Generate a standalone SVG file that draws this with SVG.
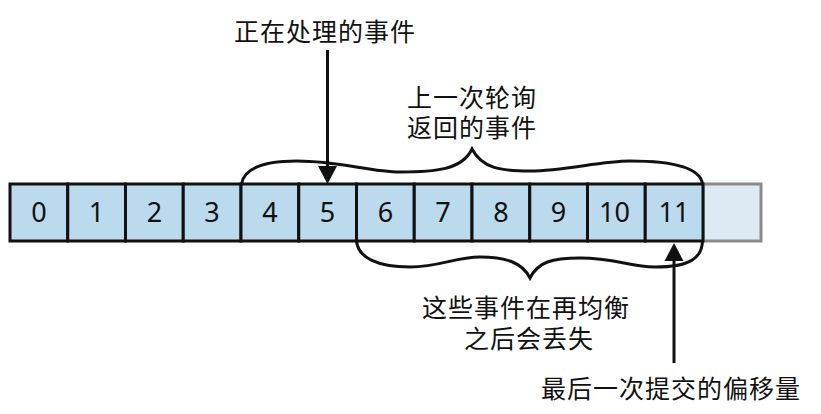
<svg xmlns="http://www.w3.org/2000/svg" width="821" height="414" viewBox="0 0 821 414">
<defs>
<style>
.cell{fill:#bcdaed;stroke:#111;stroke-width:3}
.ghost{fill:#dde9f3;stroke:#8a8a8a;stroke-width:3}
.num{font-family:"Noto Sans","Open Sans",sans-serif;font-size:27px;fill:#111;text-anchor:middle}
.lbl{font-family:"Noto Sans CJK SC","Noto Sans",sans-serif;font-size:25px;fill:#111;letter-spacing:1px}
.line{fill:none;stroke:#111;stroke-width:3}
.brace{fill:none;stroke:#111;stroke-width:3;stroke-linejoin:miter}
.head{fill:#111}
</style>
</defs>
<rect width="821" height="414" fill="#ffffff"/>
<g id="cell-empty"><rect class="ghost" x="703" y="184" width="58" height="57"/></g>
<g id="cell-0"><rect class="cell" x="10" y="184" width="57.75" height="57"/><text class="num" x="38.9" y="222">0</text></g>
<g id="cell-1"><rect class="cell" x="67.75" y="184" width="57.75" height="57"/><text class="num" x="96.6" y="222">1</text></g>
<g id="cell-2"><rect class="cell" x="125.5" y="184" width="57.75" height="57"/><text class="num" x="154.4" y="222">2</text></g>
<g id="cell-3"><rect class="cell" x="183.25" y="184" width="57.75" height="57"/><text class="num" x="212.1" y="222">3</text></g>
<g id="cell-4"><rect class="cell" x="241" y="184" width="57.75" height="57"/><text class="num" x="269.9" y="222">4</text></g>
<g id="cell-5"><rect class="cell" x="298.75" y="184" width="57.75" height="57"/><text class="num" x="327.6" y="222">5</text></g>
<g id="cell-6"><rect class="cell" x="356.5" y="184" width="57.75" height="57"/><text class="num" x="385.4" y="222">6</text></g>
<g id="cell-7"><rect class="cell" x="414.25" y="184" width="57.75" height="57"/><text class="num" x="443.1" y="222">7</text></g>
<g id="cell-8"><rect class="cell" x="472" y="184" width="57.75" height="57"/><text class="num" x="500.9" y="222">8</text></g>
<g id="cell-9"><rect class="cell" x="529.75" y="184" width="57.75" height="57"/><text class="num" x="558.6" y="222">9</text></g>
<g id="cell-10"><rect class="cell" x="587.5" y="184" width="57.75" height="57"/><text class="num" x="614.5" y="222">10</text></g>
<g id="cell-11"><rect class="cell" x="645.25" y="184" width="57.75" height="57"/><text class="num" x="673.9" y="222">11</text></g>
<g id="label-processing"><text class="lbl" x="234" y="41">正在处理的事件</text></g>
<g id="label-last-poll"><text class="lbl" x="407" y="107">上一次轮询</text><text class="lbl" x="407" y="137">返回的事件</text></g>
<g id="label-lost"><text class="lbl" x="422" y="317">这些事件在再均衡</text><text class="lbl" x="464" y="348">之后会丢失</text></g>
<g id="label-committed"><text class="lbl" x="541" y="398">最后一次提交的偏移量</text></g>
<g id="connectors">
<line class="line" x1="327.5" y1="50" x2="327.5" y2="168"/>
<polygon class="head" points="318,166 337,166 327.5,184"/>
<line class="line" x1="674" y1="258" x2="674" y2="363"/>
<polygon class="head" points="664.5,261 683.5,261 674,243"/>
<path class="brace" d="M241.5,184 C244,168 264,161 297,161 C340,161 370,172 400,172 C435,172 462,170 472,149 C482,168 500,171 530,171 C565,171 600,161 630,161 C668,161 700,166 702.5,184"/>
<path class="brace" d="M356.5,241 C358,258 378,267 410,267 C440,267 455,257 480,257 C505,257 522,262 530,278 C538,262 552,258 580,258 C615,258 630,267 655,267 C690,267 702,258 702.5,241"/>
</g>
</svg>
